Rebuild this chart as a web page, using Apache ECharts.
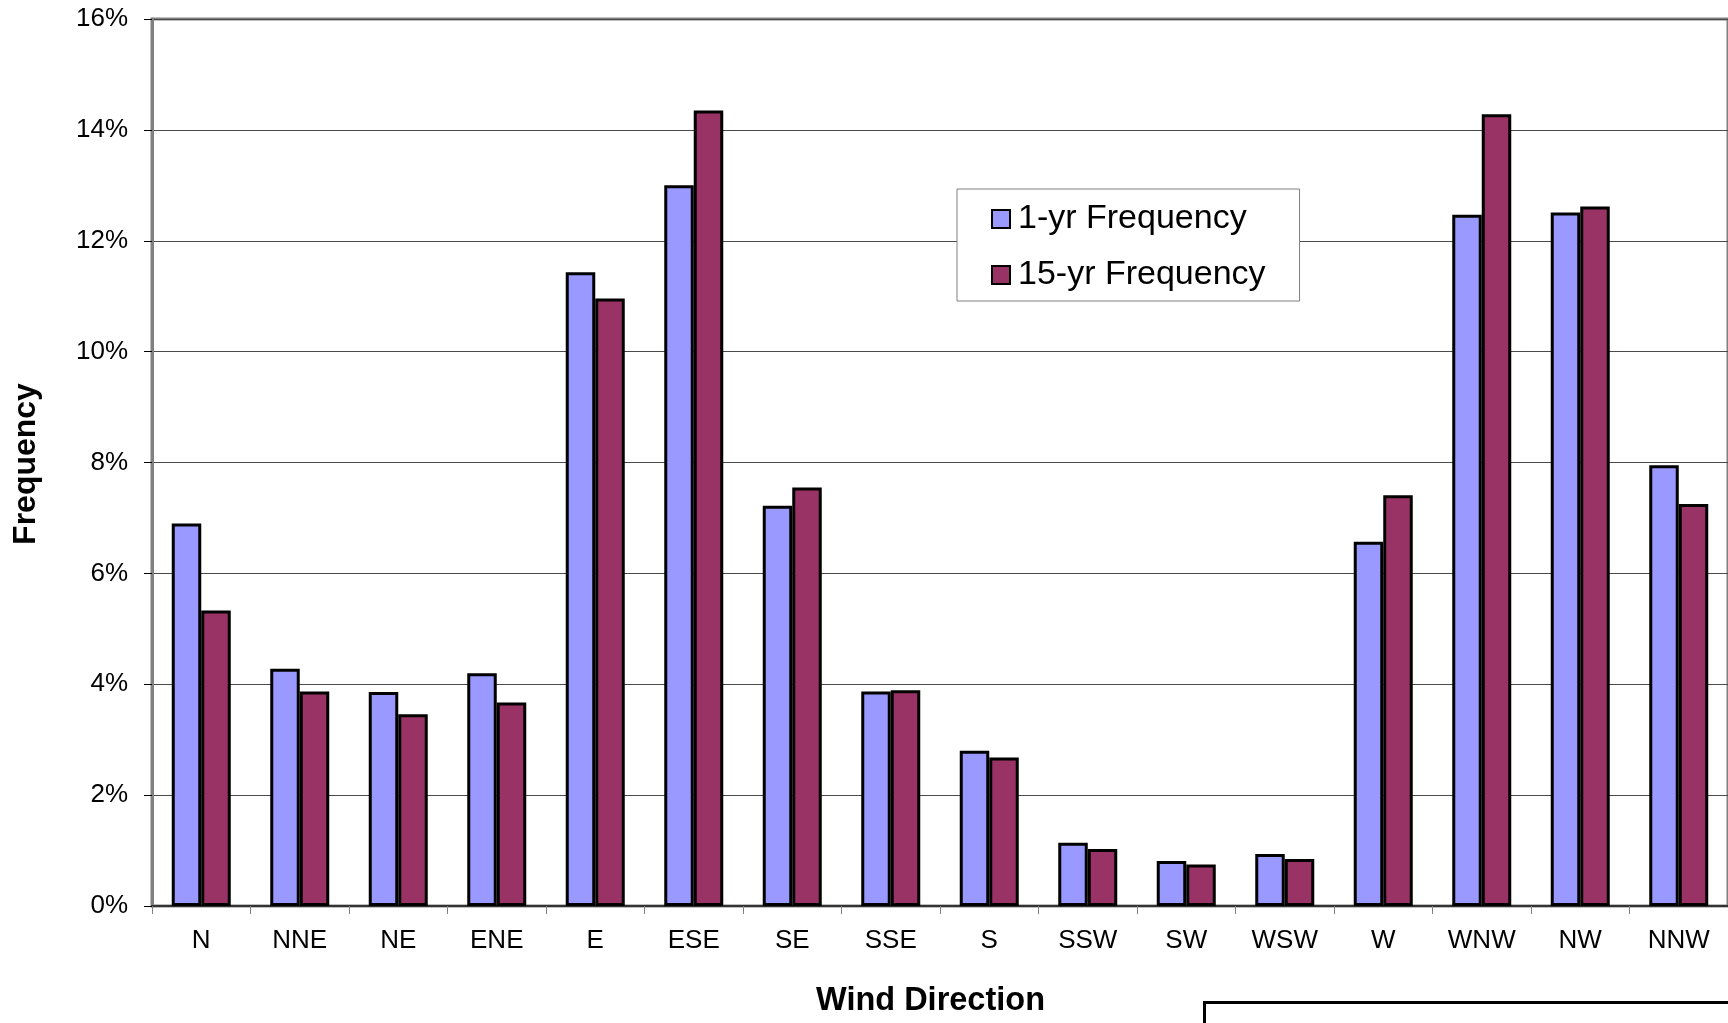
<!DOCTYPE html>
<html>
<head>
<meta charset="utf-8">
<script src="https://cdn.jsdelivr.net/npm/echarts@6/dist/echarts.min.js"></script>
<style>
html,body{margin:0;padding:0;background:#fff;overflow:hidden;}
#chart{width:1728px;height:1023px;}
</style>
</head>
<body>
<div id="chart"></div>
<script>
var categories = ['N','NNE','NE','ENE','E','ESE','SE','SSE','S','SSW','SW','WSW','W','WNW','NW','NNW'];
var oneYear = [6.90,4.28,3.86,4.20,11.43,13.00,7.22,3.87,2.80,1.14,0.81,0.94,6.57,12.47,12.51,7.95];
var fifteenYear = [5.33,3.87,3.46,3.67,10.96,14.35,7.55,3.89,2.68,1.03,0.75,0.85,7.41,14.28,12.62,7.25];
var seriesNames = ['1-yr Frequency','15-yr Frequency'];
var yTicks = {min:0, max:16, interval:2};

var FONT = "'Liberation Sans', Arial, sans-serif";
var chart = echarts.init(document.getElementById('chart'), null, {renderer:'canvas'});
chart.setOption({
  animation:false,
  backgroundColor:'#ffffff',
  textStyle:{fontFamily:FONT},
  grid:{left:152, top:19, width:1579, height:895, show:true, borderColor:'#808080', borderWidth:3, backgroundColor:'transparent'},
  legend:{
    orient:'vertical', left:957, top:189,
    padding:[13,34,9,34],
    itemGap:22, itemWidth:18, itemHeight:18, icon:'rect',
    backgroundColor:'#ffffff', borderColor:'#808080', borderWidth:1, borderRadius:0,
    textStyle:{fontSize:34, color:'#000', fontFamily:FONT, padding:[0,0,0,3]},
    itemStyle:{borderColor:'#000', borderWidth:2},
    data:seriesNames
  },
  xAxis:{
    type:'category', data:categories,
    name:'Wind Direction', nameLocation:'middle', nameGap:79,
    nameTextStyle:{fontSize:32.5, fontWeight:'bold', color:'#000', fontFamily:FONT, padding:[0,19,0,0]},
    axisLine:{show:true, lineStyle:{color:'#333', width:2}},
    axisTick:{show:true, length:8, lineStyle:{color:'#808080', width:1}},
    axisLabel:{fontSize:26, color:'#000', margin:22, fontFamily:FONT},
    splitLine:{show:false}
  },
  yAxis:{
    type:'value', min:yTicks.min, max:yTicks.max, interval:yTicks.interval,
    name:'Frequency', nameLocation:'middle', nameGap:110, nameRotate:90,
    nameTextStyle:{fontSize:32, fontWeight:'bold', color:'#000', fontFamily:FONT, padding:[0,3,0,0]},
    axisLine:{show:true, lineStyle:{color:'#808080', width:3}},
    axisTick:{show:true, length:8, lineStyle:{color:'#000', width:1}},
    axisLabel:{fontSize:26, color:'#000', margin:24, fontFamily:FONT, formatter:'{value}%'},
    splitLine:{show:true, lineStyle:{color:'#4a4a4a', width:1}}
  },
  series:[
    {name:seriesNames[0], type:'bar', data:oneYear, barWidth:29.5, barGap:'0%',
     itemStyle:{color:'#9999FF', borderColor:'#000', borderWidth:3}},
    {name:seriesNames[1], type:'bar', data:fifteenYear, barWidth:29.5, barGap:'0%',
     itemStyle:{color:'#993366', borderColor:'#000', borderWidth:3}}
  ],
  graphic:[
    {type:'rect', left:1202, top:1000, z:10,
     shape:{width:600, height:120},
     style:{fill:'none', stroke:'#000', lineWidth:3}}
  ]
});
</script>
</body>
</html>
